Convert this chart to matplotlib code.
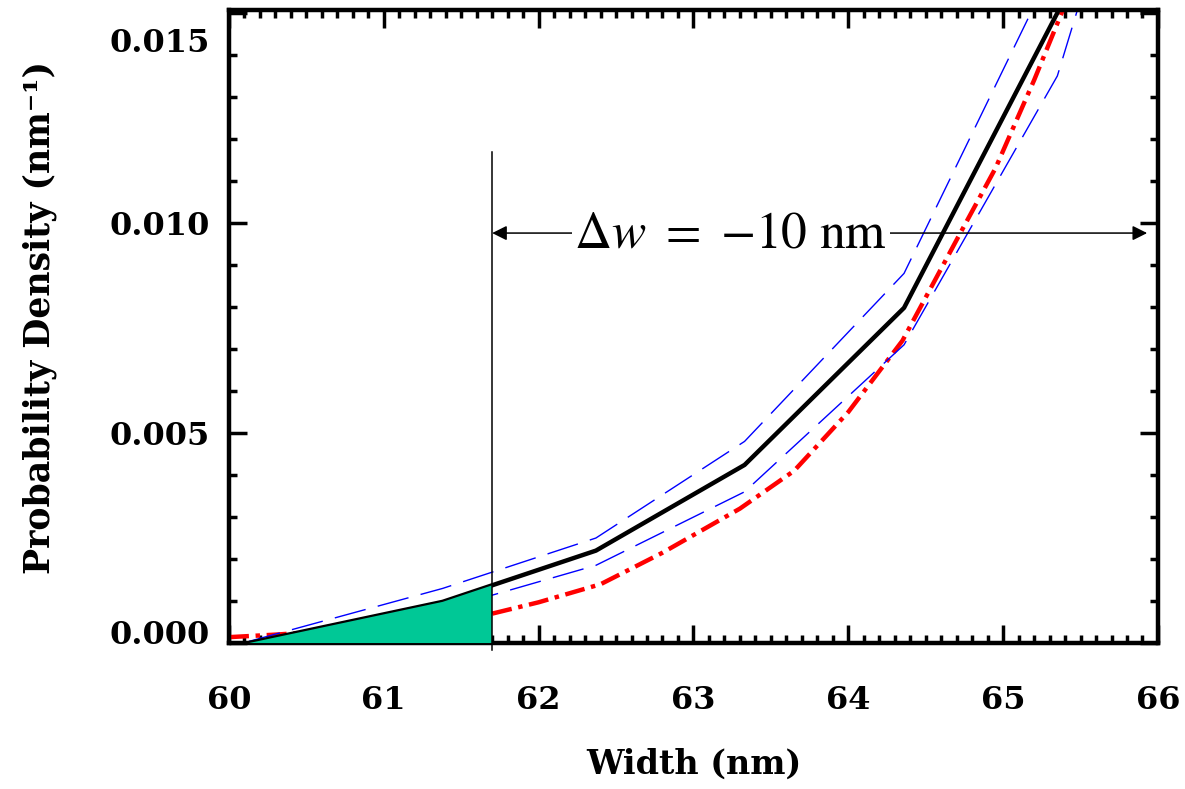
import matplotlib
matplotlib.use("Agg")
import matplotlib.pyplot as plt
import matplotlib.transforms as mtransforms
from matplotlib.patches import Rectangle
from matplotlib.ticker import MultipleLocator

# width grid (bin centres) and density estimate with its confidence band
width = [60.13, 61.38, 62.37, 63.33, 64.36, 65.35, 66.34]
density = [0.0, 0.00098, 0.0022, 0.00424, 0.00798, 0.0150, 0.026]
band_hi = [0.00004, 0.0013, 0.0025, 0.0048, 0.0088, 0.0163, 0.028]
band_lo = [0.0, 0.0008, 0.00185, 0.0036, 0.0071, 0.0135, 0.0255]

# fitted model curve
fit_w = [60.0, 60.3, 60.7, 61.0, 61.4, 61.7, 62.0, 62.4, 62.8, 63.3,
         63.65, 64.0, 64.35, 64.7, 64.95, 65.2, 65.4, 65.6]
fit_d = [0.00014, 0.0002, 0.0003, 0.0004, 0.00055, 0.0007, 0.00097, 0.0014,
         0.00215, 0.0032, 0.0041, 0.0055, 0.0072, 0.0096, 0.0113, 0.0134,
         0.0152, 0.0175]

w_cut = 61.7       # spec limit
w_nominal = 71.7   # target width, so shift = w_cut - w_nominal
cut_top = 0.01169
arrow_y = 0.00976
arrow_end = 65.93

label_font = dict(family="DejaVu Serif", weight="bold")

fig = plt.figure(figsize=(11.85, 7.89), dpi=100)
ax = fig.add_axes([0.1932, 0.185, 0.7840, 0.8023])

ax.plot(fit_w, fit_d, color="red", lw=3.2, ls=(0, (4.5, 1.5, 1, 1.5)), zorder=2)
ax.plot(width, band_hi, color="blue", lw=1.0, ls=(0, (23, 9)), zorder=2)
ax.plot(width, band_lo, color="blue", lw=1.0, ls=(0, (23, 9)), zorder=2)
ax.plot(width, density, color="black", lw=3.2, zorder=2)

# tail probability below the cut
tail = ax.fill_between(width, 0, density, color="#00c896", lw=0, zorder=3)
tail.set_clip_path(Rectangle((59.0, -1.0), w_cut - 59.0, 2.0, transform=ax.transData))

ax.plot([w_cut, w_cut], [-0.00017, cut_top], color="black", lw=1.1,
        clip_on=False, zorder=4)
ax.annotate("", xy=(w_cut, arrow_y), xytext=(arrow_end, arrow_y),
            arrowprops=dict(arrowstyle="<|-|>", color="black", lw=1.1,
                            mutation_scale=22, shrinkA=0, shrinkB=0),
            zorder=4)
shift = round(w_nominal - w_cut)
ax.text(63.24, arrow_y, r"$\Delta w\ =\ {-}%d\ \mathrm{nm}$" % shift,
        fontsize=37, ha="center", va="center", math_fontfamily="stix",
        bbox=dict(facecolor="white", edgecolor="none", pad=2), zorder=5)

ax.set_xlim(60, 66)
ax.set_ylim(0, 0.01507)
ax.set_xticks([60, 61, 62, 63, 64, 65, 66])
ax.set_yticks([0.0, 0.005, 0.010, 0.015])
ax.set_yticklabels(["0.000", "0.005", "0.010", "0.015"])
ax.xaxis.set_minor_locator(MultipleLocator(0.1))
ax.yaxis.set_minor_locator(MultipleLocator(0.001))

ax.tick_params(which="both", direction="in", top=True, right=True, width=2.5)
ax.tick_params(which="major", length=13)
ax.tick_params(which="minor", length=6)
ax.tick_params(axis="x", which="major", pad=30)
ax.tick_params(axis="y", which="major", pad=14)
for lab in ax.get_xticklabels() + ax.get_yticklabels():
    lab.set_fontfamily("DejaVu Serif")
    lab.set_fontweight("bold")
    lab.set_fontsize(23)
for sp in ax.spines.values():
    sp.set_linewidth(3.2)

# end labels sit inside the axis range
ylabs = ax.get_yticklabels()
ylabs[0].set_transform(ylabs[0].get_transform()
                       + mtransforms.ScaledTranslation(0, 0.11, fig.dpi_scale_trans))
ylabs[-1].set_transform(ylabs[-1].get_transform()
                        + mtransforms.ScaledTranslation(0, -0.27, fig.dpi_scale_trans))

ax.set_xlabel("Width (nm)", fontsize=24, va="center", **label_font)
ax.set_ylabel("Probability Density (nm\u207b\u00b9)", fontsize=25, va="center",
              **label_font)
ax.xaxis.set_label_coords(0.5, -0.191)
ax.yaxis.set_label_coords(-0.2034, 0.515)

fig.savefig("out.png", dpi=100)
